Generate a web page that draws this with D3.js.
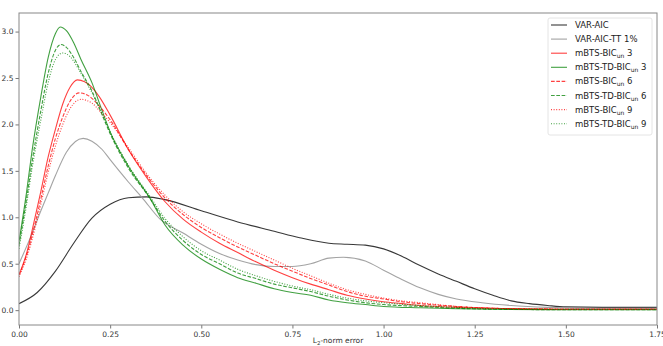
<!DOCTYPE html>
<html>
<head>
<meta charset="utf-8">
<script src="https://cdn.jsdelivr.net/npm/d3@7"></script>
<style>
  body { margin: 0; background: #fff; }
  svg text { font-family: "DejaVu Sans", sans-serif; }
</style>
</head>
<body>
<div id="chart"></div>
<script>
// density curves, [L2-norm error, density]
const varAic = [[0,0.07],[0.05,0.19],[0.1,0.42],[0.15,0.72],[0.2,0.99],[0.25,1.14],[0.3,1.21],[0.35,1.22],[0.4,1.19],[0.5,1.07],[0.6,0.95],[0.7,0.85],[0.77,0.78],[0.85,0.72],[0.9,0.71],[0.95,0.70],[1.0,0.66],[1.05,0.58],[1.1,0.48],[1.15,0.39],[1.2,0.31],[1.25,0.23],[1.3,0.16],[1.35,0.1],[1.4,0.07],[1.45,0.05],[1.5,0.035],[1.6,0.03],[1.75,0.03]];
const varAicTT = [[0,0.5],[0.03,0.77],[0.06,1.07],[0.08,1.26],[0.1,1.45],[0.13,1.7],[0.176,1.85],[0.2,1.82],[0.228,1.73],[0.25,1.62],[0.3,1.38],[0.338,1.21],[0.387,0.98],[0.45,0.83],[0.5,0.71],[0.55,0.61],[0.6,0.54],[0.65,0.49],[0.7,0.47],[0.75,0.47],[0.8,0.5],[0.85,0.56],[0.89,0.57],[0.95,0.53],[1.0,0.43],[1.05,0.33],[1.1,0.24],[1.15,0.17],[1.2,0.12],[1.27,0.08],[1.35,0.05],[1.45,0.03],[1.6,0.02],[1.75,0.02]];
const bic3 = [[0,0.38],[0.02,0.6],[0.044,1.0],[0.06,1.28],[0.08,1.65],[0.1,1.95],[0.12,2.22],[0.14,2.4],[0.16,2.48],[0.18,2.46],[0.2,2.4],[0.22,2.3],[0.25,2.1],[0.3,1.73],[0.35,1.43],[0.4,1.17],[0.45,0.98],[0.5,0.84],[0.55,0.72],[0.6,0.62],[0.65,0.52],[0.7,0.43],[0.75,0.35],[0.8,0.28],[0.85,0.22],[0.9,0.16],[0.95,0.12],[1.0,0.09],[1.05,0.07],[1.1,0.05],[1.2,0.03],[1.3,0.02],[1.5,0.01],[1.75,0.01]];
const tdBic3 = [[0,0.74],[0.02,1.25],[0.036,1.72],[0.06,2.3],[0.08,2.72],[0.1,2.98],[0.113,3.05],[0.13,3.01],[0.15,2.88],[0.17,2.7],[0.2,2.45],[0.225,2.18],[0.25,1.92],[0.3,1.55],[0.36,1.2],[0.4,0.92],[0.45,0.7],[0.5,0.55],[0.55,0.44],[0.6,0.35],[0.65,0.29],[0.7,0.23],[0.75,0.19],[0.8,0.16],[0.85,0.11],[0.9,0.08],[0.95,0.06],[1.0,0.04],[1.1,0.025],[1.2,0.015],[1.3,0.01],[1.5,0.005],[1.75,0.005]];
const bic6 = [[0,0.38],[0.02,0.58],[0.044,0.93],[0.06,1.2],[0.08,1.55],[0.1,1.85],[0.12,2.08],[0.14,2.25],[0.165,2.34],[0.19,2.31],[0.22,2.2],[0.25,2.05],[0.3,1.73],[0.35,1.45],[0.4,1.21],[0.45,1.03],[0.5,0.89],[0.55,0.78],[0.6,0.68],[0.65,0.59],[0.7,0.5],[0.75,0.42],[0.8,0.34],[0.85,0.27],[0.9,0.2],[0.95,0.15],[1.0,0.12],[1.05,0.09],[1.1,0.07],[1.2,0.04],[1.3,0.02],[1.5,0.01],[1.75,0.01]];
const tdBic6 = [[0,0.7],[0.02,1.18],[0.036,1.6],[0.06,2.15],[0.08,2.55],[0.1,2.8],[0.115,2.86],[0.13,2.83],[0.15,2.72],[0.17,2.57],[0.2,2.36],[0.225,2.13],[0.25,1.9],[0.3,1.53],[0.36,1.2],[0.4,0.96],[0.45,0.75],[0.5,0.6],[0.55,0.5],[0.6,0.4],[0.65,0.34],[0.7,0.28],[0.75,0.24],[0.8,0.2],[0.85,0.15],[0.9,0.11],[0.95,0.08],[1.0,0.06],[1.1,0.04],[1.2,0.02],[1.3,0.01],[1.5,0.005],[1.75,0.005]];
const bic9 = [[0,0.36],[0.02,0.55],[0.044,0.88],[0.06,1.14],[0.08,1.48],[0.1,1.77],[0.12,2.0],[0.14,2.17],[0.17,2.27],[0.2,2.23],[0.22,2.15],[0.25,2.02],[0.3,1.75],[0.35,1.47],[0.4,1.24],[0.45,1.06],[0.5,0.93],[0.55,0.82],[0.6,0.72],[0.65,0.63],[0.7,0.54],[0.75,0.45],[0.8,0.37],[0.85,0.29],[0.9,0.22],[0.95,0.17],[1.0,0.13],[1.05,0.1],[1.1,0.08],[1.2,0.04],[1.3,0.02],[1.5,0.01],[1.75,0.01]];
const tdBic9 = [[0,0.66],[0.02,1.12],[0.036,1.53],[0.06,2.05],[0.08,2.45],[0.1,2.7],[0.12,2.77],[0.14,2.73],[0.17,2.55],[0.2,2.34],[0.225,2.14],[0.25,1.92],[0.3,1.56],[0.36,1.22],[0.4,0.99],[0.45,0.79],[0.5,0.64],[0.55,0.54],[0.6,0.44],[0.65,0.37],[0.7,0.31],[0.75,0.26],[0.8,0.22],[0.85,0.17],[0.9,0.13],[0.95,0.1],[1.0,0.08],[1.1,0.05],[1.2,0.03],[1.3,0.015],[1.5,0.01],[1.75,0.01]];

const xTicks = [0, 0.25, 0.5, 0.75, 1.0, 1.25, 1.5, 1.75];
const yTicks = [0, 0.5, 1.0, 1.5, 2.0, 2.5, 3.0];

// legend order = draw order
const series = [
    { name: "VAR-AIC", sub: "", tail: "", data: varAic, color: "#222", dash: null, opacity: 0.9 },
    { name: "VAR-AIC-TT 1%", sub: "", tail: "", data: varAicTT, color: "#999", dash: null, opacity: 0.9 },
    { name: "mBTS-BIC", sub: "un", tail: " 3", data: bic3, color: "#f00", dash: null, opacity: 0.75 },
    { name: "mBTS-TD-BIC", sub: "un", tail: " 3", data: tdBic3, color: "#008000", dash: null, opacity: 0.75 },
    { name: "mBTS-BIC", sub: "un", tail: " 6", data: bic6, color: "#f00", dash: "3.7,1.6", opacity: 0.75 },
    { name: "mBTS-TD-BIC", sub: "un", tail: " 6", data: tdBic6, color: "#008000", dash: "3.7,1.6", opacity: 0.75 },
    { name: "mBTS-BIC", sub: "un", tail: " 9", data: bic9, color: "#f00", dash: "1,1.6", opacity: 0.75 },
    { name: "mBTS-TD-BIC", sub: "un", tail: " 9", data: tdBic9, color: "#008000", dash: "1,1.6", opacity: 0.75 }
];

const margins = { top: 13, right: 6, bottom: 21, left: 19 };
const W = 663, H = 346;
const width = W - margins.left - margins.right;
const height = H - margins.top - margins.bottom;

const svg = d3.select("#chart")
    .append("svg")
    .attr("width", W)
    .attr("height", H)
    .append("g")
    .attr("transform", `translate(${margins.left},${margins.top})`);

const xScale = d3.scaleLinear().domain([0, 1.75]).range([0, width]);
const yScale = d3.scaleLinear().domain([-0.16, 3.2]).range([height, 0]);

// axes
const xAxis = svg.append("g")
    .attr("transform", `translate(0,${height})`)
    .call(d3.axisBottom(xScale).tickValues(xTicks).tickFormat(d3.format(".2f")).tickSize(3.5).tickPadding(3));
const yAxis = svg.append("g")
    .call(d3.axisLeft(yScale).tickValues(yTicks).tickFormat(d3.format(".1f")).tickSize(3.5).tickPadding(2));

[xAxis, yAxis].forEach(ax => {
    ax.select(".domain").remove();
    ax.selectAll("line").attr("stroke", "#555").attr("stroke-width", 0.8);
    ax.selectAll("text").attr("fill", "#333").style("font-size", "7.5px");
});

// lines
const line = d3.line()
    .x(d => xScale(d[0]))
    .y(d => yScale(d[1]))
    .curve(d3.curveMonotoneX);

svg.append("defs").append("clipPath").attr("id", "clip")
    .append("rect").attr("width", width).attr("height", height);

svg.append("g")
    .attr("clip-path", "url(#clip)")
    .selectAll("path")
    .data(series)
    .join("path")
    .attr("fill", "none")
    .attr("stroke", d => d.color)
    .attr("stroke-opacity", d => d.opacity)
    .attr("stroke-width", 1.1)
    .attr("stroke-dasharray", d => d.dash)
    .attr("d", d => line(d.data));

// frame
svg.append("rect")
    .attr("width", width)
    .attr("height", height)
    .attr("fill", "none")
    .attr("stroke", "#888")
    .attr("stroke-width", 1);

// x label
const xl = svg.append("text")
    .attr("x", width / 2)
    .attr("y", height + 18)
    .attr("text-anchor", "middle")
    .attr("fill", "#333")
    .style("font-size", "7.5px");
xl.append("tspan").text("L");
xl.append("tspan").attr("dy", 2).style("font-size", "5.5px").text("2");
xl.append("tspan").attr("dy", -2).text("-norm error");

// legend
const lg = svg.append("g").attr("transform", `translate(${548 - margins.left},${18 - margins.top})`);
lg.append("rect")
    .attr("width", 104)
    .attr("height", 117)
    .attr("rx", 2)
    .attr("fill", "#fff")
    .attr("fill-opacity", 0.8)
    .attr("stroke", "#ddd")
    .attr("stroke-width", 0.8);

const items = lg.selectAll(".item")
    .data(series)
    .join("g")
    .attr("class", "item")
    .attr("transform", (d, i) => `translate(0,${7 + i * 14.1})`);

items.append("line")
    .attr("x1", 3).attr("x2", 19)
    .attr("stroke", d => d.color)
    .attr("stroke-opacity", d => d.opacity)
    .attr("stroke-width", 1.1)
    .attr("stroke-dasharray", d => d.dash);

const lt = items.append("text")
    .attr("x", 27)
    .attr("y", 3)
    .attr("fill", "#222")
    .style("font-size", "8.5px");
lt.append("tspan").text(d => d.name);
lt.filter(d => d.sub).append("tspan")
    .attr("dy", 2)
    .style("font-size", "6px")
    .text(d => d.sub);
lt.filter(d => d.tail).append("tspan")
    .attr("dy", -2)
    .text(d => d.tail);
</script>
</body>
</html>
